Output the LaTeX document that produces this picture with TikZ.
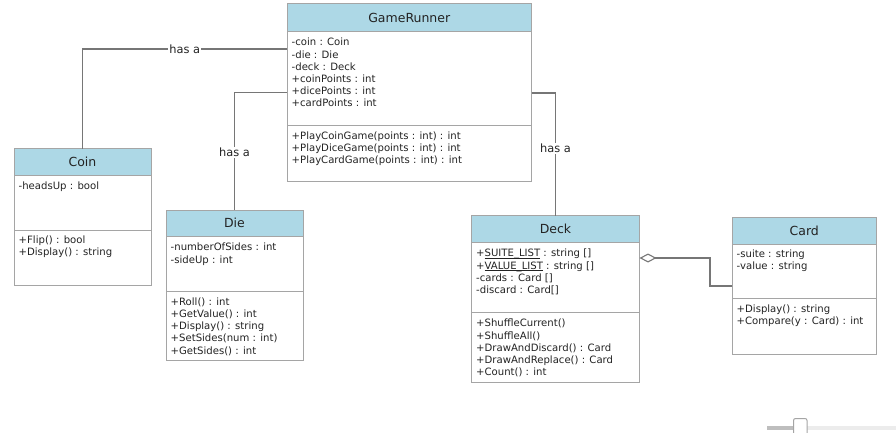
\documentclass[tikz,border=0pt]{standalone}
\usepackage{fontspec}
\setmainfont{DejaVu Sans}
\usetikzlibrary{arrows.meta}
\definecolor{hdrc}{RGB}{173,216,230}
\definecolor{boxc}{RGB}{165,165,165}
\definecolor{linec}{RGB}{118,118,118}
\definecolor{txtc}{RGB}{35,35,35}
\definecolor{slda}{RGB}{190,190,190}
\definecolor{slli}{RGB}{236,236,236}
\newcommand{\fs}{\rule{0pt}{9pt}}
\newcommand{\ul}[1]{\underline{\smash{#1}}}
\begin{document}
\begin{tikzpicture}[x=1pt,y=-1pt,
  hdr/.style={draw=boxc, fill=hdrc, line width=1pt, anchor=north west, inner sep=0pt, outer sep=0pt,
    font=\fontsize{12.5}{14}\selectfont, text=txtc},
  part/.style={draw=boxc, fill=white, line width=1pt, anchor=north west, inner sep=0pt, outer sep=0pt},
  txt/.style={anchor=north west, inner sep=0pt, align=left, font=\fontsize{10.1}{12.2}\selectfont, text=txtc},
  conn/.style={draw=linec, line width=1.4pt},
  lbl/.style={fill=white, inner sep=1pt, font=\fontsize{11.4}{13}\selectfont, text=txtc}]
\useasboundingbox (0,0) rectangle (896,433);

% GameRunner
\node[hdr, minimum width=244.5, minimum height=27.5] (grH) at (287,4) {GameRunner};
\node[part, minimum width=244.5, minimum height=94.5] (grA) at (287,31.5) {};
\node[part, minimum width=244.5, minimum height=55.5] (grM) at (287,126) {};
\node[txt] (grAt) at (291.5,36.7) {\fs-coin : Coin\\-die : Die\\-deck : Deck\\+coinPoints : int\\+dicePoints : int\\+cardPoints : int};
\node[txt] (grMt) at (291.5,130.3) {\fs+PlayCoinGame(points : int) : int\\+PlayDiceGame(points : int) : int\\+PlayCardGame(points : int) : int};

% Coin
\node[hdr, minimum width=137, minimum height=27] (coinH) at (14,148.5) {Coin};
\node[part, minimum width=137, minimum height=54.5] (coinA) at (14,175.5) {};
\node[part, minimum width=137, minimum height=55.5] (coinM) at (14,230) {};
\node[txt] (coinAt) at (18.5,180.3) {\fs-headsUp : bool};
\node[txt] (coinMt) at (18.5,234.3) {\fs+Flip() : bool\\+Display() : string};

% Die
\node[hdr, minimum width=137, minimum height=26.5] (dieH) at (166,210) {Die};
\node[part, minimum width=137, minimum height=54.5] (dieA) at (166,236.5) {};
\node[part, minimum width=137, minimum height=69.5] (dieM) at (166,291) {};
\node[txt] (dieAt) at (170.5,241.7) {\fs-numberOfSides : int\\-sideUp : int};
\node[txt] (dieMt) at (170.5,296) {\fs+Roll() : int\\+GetValue() : int\\+Display() : string\\+SetSides(num : int)\\+GetSides() : int};

% Deck
\node[hdr, minimum width=168, minimum height=27] (deckH) at (471.5,215.5) {Deck};
\node[part, minimum width=168, minimum height=70] (deckA) at (471.5,242.5) {};
\node[part, minimum width=168, minimum height=70] (deckM) at (471.5,312.5) {};
\node[txt] (deckAt) at (476,247.7) {\fs+\ul{SUITE\_LIST} : string []\\+\ul{VALUE\_LIST} : string []\\-cards : Card []\\-discard : Card[]};
\node[txt] (deckMt) at (476,317.7) {\fs+ShuffleCurrent()\\+ShuffleAll()\\+DrawAndDiscard() : Card\\+DrawAndReplace() : Card\\+Count() : int};

% Card
\node[hdr, minimum width=144.5, minimum height=27.5] (cardH) at (732,217) {Card};
\node[part, minimum width=144.5, minimum height=54] (cardA) at (732,244.5) {};
\node[part, minimum width=144.5, minimum height=55.5] (cardM) at (732,298.5) {};
\node[txt] (cardAt) at (736.5,248.3) {\fs-suite : string\\-value : string};
\node[txt] (cardMt) at (736.5,303.3) {\fs+Display() : string\\+Compare(y : Card) : int};

% connectors
\draw[conn] (coinH.north) |- node[lbl, pos=0.75] {has a} ([yshift=-17.5pt]grA.north west);
\draw[conn] (dieH.north) |- node[lbl, pos=0.245] {has a} ([yshift=-61pt]grA.north west);
\draw[conn] ([yshift=-61.5pt]grA.north east) -| node[lbl, pos=0.725] {has a} (deckH.north);
\coordinate (aggS) at ([yshift=-15.5pt]deckA.north east);
\coordinate (aggE) at ([yshift=-41.5pt]cardA.north west);
\coordinate (aggB) at (710,0);
\draw[conn, {Diamond[open, length=17pt, width=9pt, line width=1.1pt]}-] (aggS) -- (aggS -| aggB) |- (aggE);

% slider
\begin{scope}
\clip (0,0) rectangle (896,433);
\fill[slli] (796,426) rectangle (896,430);
\fill[slda] (767,426) rectangle (796,430);
\draw[draw=boxc, fill=white, line width=1pt, rounded corners=2pt] (793.5,418.5) rectangle (807,442);
\end{scope}
\end{tikzpicture}
\end{document}
